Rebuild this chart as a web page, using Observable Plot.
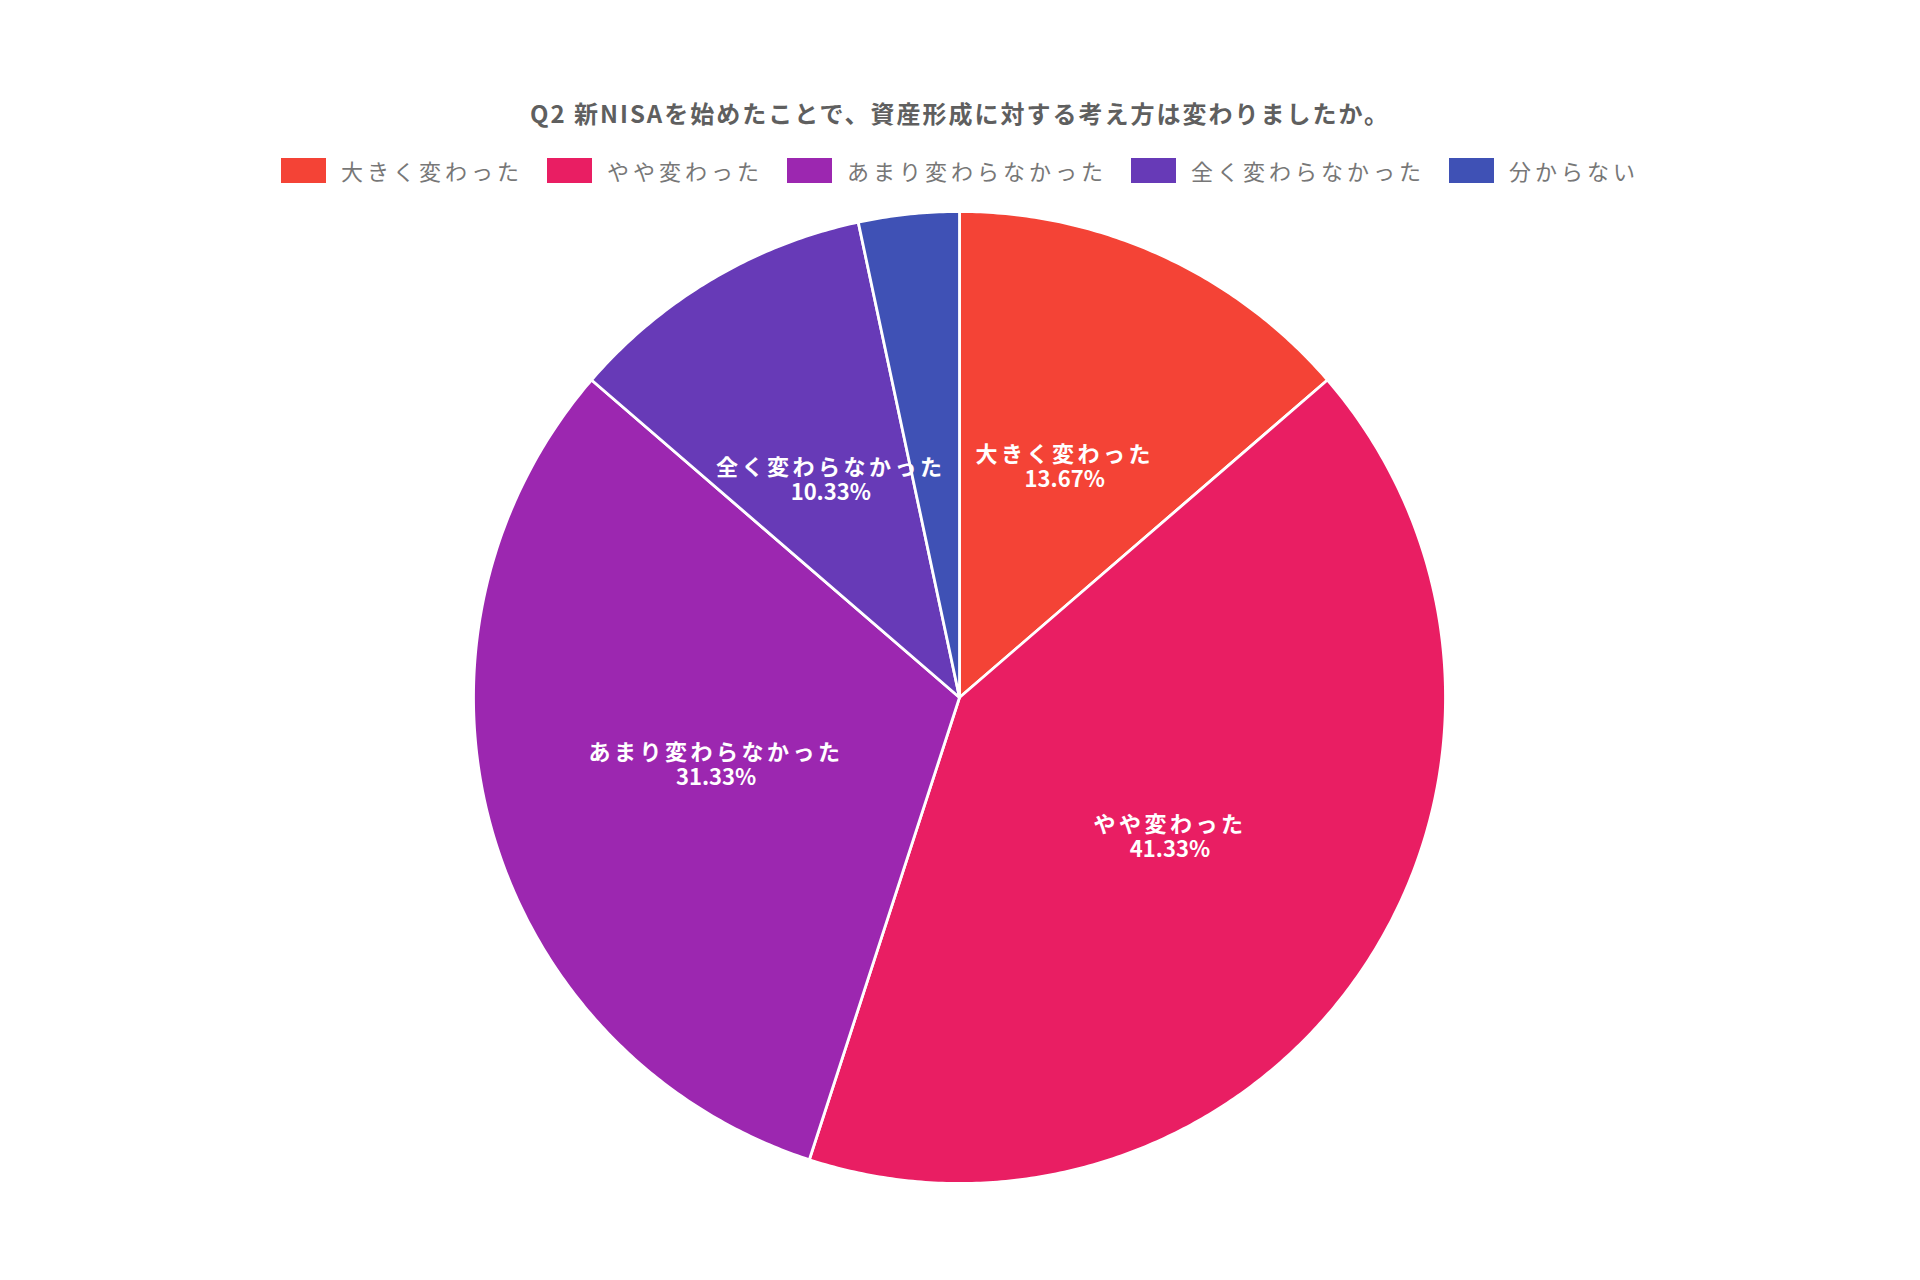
<!DOCTYPE html>
<html lang="ja">
<head>
<meta charset="utf-8">
<script src="https://cdn.jsdelivr.net/npm/d3@7"></script>
<script src="https://cdn.jsdelivr.net/npm/@observablehq/plot@0.6"></script>
<style>
  html, body { margin: 0; padding: 0; background: #fff; }
  body { width: 1920px; height: 1280px; position: relative; overflow: hidden;
         font-family: "Noto Sans CJK JP", "Noto Sans", sans-serif; }
  #title { position: absolute; left: 0; width: 1920px; top: 96px; text-align: center;
           font-size: 24px; font-weight: bold; color: #5f5f5f; letter-spacing: 2px; line-height: 34px; }
  #legend { position: absolute; left: 0; width: 1920px; top: 152px; display: flex;
            justify-content: center; align-items: center; }
  .item { display: flex; align-items: center; margin: 0 12px; }
  .sw { width: 45px; height: 25px; margin-right: 15px; }
  .lab { font-size: 22px; color: #777; letter-spacing: 4px; line-height: 36px; }
  #chart { position: absolute; left: 0; top: 200px; }
</style>
</head>
<body>
<div id="title"></div>
<div id="legend"></div>
<div id="chart"></div>
<script>
const titleText = "Q2 新NISAを始めたことで、資産形成に対する考え方は変わりましたか。";
const categories = ["大きく変わった", "やや変わった", "あまり変わらなかった", "全く変わらなかった", "分からない"];
const values = [13.67, 41.33, 31.33, 10.33, 3.34];
const colors = ["#F44336", "#E91E63", "#9C27B0", "#673AB7", "#3F51B5"];

document.getElementById("title").textContent = titleText;
const legend = document.getElementById("legend");
categories.forEach((c, i) => {
  const it = document.createElement("div");
  it.className = "item";
  const sw = document.createElement("div");
  sw.className = "sw";
  sw.style.background = colors[i];
  const lb = document.createElement("span");
  lb.className = "lab";
  lb.textContent = c;
  it.appendChild(sw); it.appendChild(lb);
  legend.appendChild(it);
});

// Layout: pie of unit radius in data space, equal pixel scale on x and y
const W = 1920, H = 1000, R = 486, cx = 959, cy = 497;
const total = d3.sum(values);
const pie = d3.pie().sort(null).value(d => d.value).startAngle(0).endAngle(2 * Math.PI);
const arcs = pie(categories.map((c, i) => ({category: c, value: values[i]})));

const pts = [];
arcs.forEach(a => {
  const name = a.data.category;
  pts.push({category: name, x: 0, y: 0});
  const n = Math.max(2, Math.ceil((a.endAngle - a.startAngle) / (Math.PI / 360)));
  for (let k = 0; k <= n; k++) {
    const t = a.startAngle + (a.endAngle - a.startAngle) * k / n;
    pts.push({category: name, x: Math.sin(t), y: Math.cos(t)});
  }
  pts.push({category: name, x: 0, y: 0});
});

const labels = arcs.filter(a => a.data.value / total > 0.05).map(a => {
  const m = (a.startAngle + a.endAngle) / 2;
  return {
    x: 0.52 * Math.sin(m), y: 0.52 * Math.cos(m),
    name: a.data.category,
    pct: a.data.value.toFixed(2) + "%"
  };
});

const plot = Plot.plot({
  width: W, height: H,
  margin: 0,
  x: {domain: [-cx / R, (W - cx) / R], axis: null},
  y: {domain: [-(H - cy) / R, cy / R], axis: null},
  color: {domain: categories, range: colors},
  style: {fontFamily: '"Noto Sans CJK JP", "Noto Sans", sans-serif', background: "transparent"},
  marks: [
    Plot.line(pts, {x: "x", y: "y", z: "category", fill: "category", stroke: "white",
      strokeWidth: 2.8, strokeLinejoin: "round", curve: "linear"}),
    Plot.text(labels, {x: "x", y: "y", text: "name", fill: "white", fontSize: 22,
      fontWeight: "bold", dy: -12.5}),
    Plot.text(labels, {x: "x", y: "y", text: "pct", fill: "white", fontSize: 22,
      fontWeight: "bold", dy: 12.5})
  ]
});
// name labels get letter spacing like the reference; percentages stay tight
const textGroups = plot.querySelectorAll('g[aria-label="text"]');
if (textGroups[0]) textGroups[0].querySelectorAll("text").forEach(t => t.style.letterSpacing = "3.5px");
document.getElementById("chart").appendChild(plot);
</script>
</body>
</html>
